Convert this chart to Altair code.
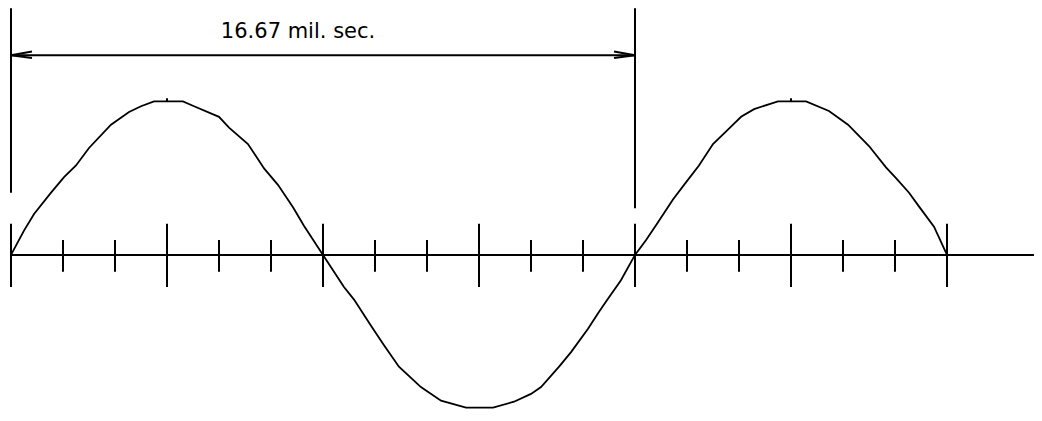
import altair as alt
import pandas as pd

# Sine-like trace: phase in degrees, amplitude (peak = 1)
wave_deg = [0, 7.5, 13.3, 23.1, 30.6, 37.5, 45.0, 57.7, 68.1, 75.0, 82.5, 99.2,
            105.6, 120.0, 125.8, 136.7, 146.0, 154.0, 162.7, 169.0, 180,
            192.1, 197.9, 207.7, 215.2, 223.8, 236.5, 248.1, 262.5, 278.1,
            290.2, 300.0, 305.8, 316.2, 323.1, 332.9, 338.7, 343.3, 351.9, 360,
            366.3, 372.7, 381.9, 388.3, 396.9, 405.0, 415.4, 421.2, 428.7, 442.5, 458.7,
            471.9, 482.9, 495.0, 504.8, 510.6, 518.1, 523.8, 532.5, 540]
wave_amp = [0, 0.158, 0.266, 0.405, 0.506, 0.582, 0.696, 0.848, 0.930, 0.968, 1.0, 1.0,
            0.968, 0.899, 0.829, 0.722, 0.563, 0.456, 0.310, 0.190, 0,
            -0.209, -0.291, -0.462, -0.589, -0.728, -0.861, -0.949, -0.994, -0.994,
            -0.956, -0.905, -0.861, -0.728, -0.633, -0.481, -0.380, -0.304, -0.165, 0,
            0.095, 0.203, 0.361, 0.456, 0.582, 0.722, 0.835, 0.899, 0.949, 1.0, 1.0,
            0.937, 0.848, 0.709, 0.570, 0.500, 0.405, 0.316, 0.184, 0]

major_deg = [0, 90, 180, 270, 360, 450, 540]
minor_deg = [30, 60, 120, 150, 210, 240, 300, 330, 390, 420, 480, 510]
peak_deg = [90, 450]

label_text = "16.67 mil. sec."
period_start, period_end = 0, 360

W, H = 1026, 401
px_per_deg = 156 / 90
px_per_amp = 158 * 0.972
x_min = -3 / px_per_deg
x_max = x_min + W / px_per_deg
y_max = 254 / 158
y_min = y_max - H / px_per_amp

xs = alt.Scale(domain=[x_min, x_max], nice=False, zero=False)
ys = alt.Scale(domain=[y_min, y_max], nice=False, zero=False)
X = lambda f: alt.X(f, type="quantitative", scale=xs, axis=None)
Y = lambda f: alt.Y(f, type="quantitative", scale=ys, axis=None)

wave = pd.DataFrame({"deg": wave_deg, "amp": wave_amp, "i": range(len(wave_deg))})
line = alt.Chart(wave).mark_line(color="black", strokeWidth=1.8).encode(
    x=X("deg"), y=Y("amp"), order="i:Q")

segs = []
segs.append(dict(x=0, x2=x_max, y=0, y2=0))
for d in major_deg:
    segs.append(dict(x=d, x2=d, y=0.203, y2=-0.209))
for d in minor_deg:
    segs.append(dict(x=d, x2=d, y=0.097, y2=-0.110))
for d in peak_deg:
    segs.append(dict(x=d, x2=d, y=1.0, y2=1.02))
segs.append(dict(x=period_start, x2=period_start, y=1.606, y2=0.405))
segs.append(dict(x=period_end, x2=period_end, y=1.606, y2=0.304))
segs.append(dict(x=period_start, x2=period_end, y=1.3006, y2=1.3006))
segs.append(dict(x=period_start, x2=12.1, y=1.3006, y2=1.3247))
segs.append(dict(x=period_start, x2=12.1, y=1.3006, y2=1.2816))
segs.append(dict(x=period_end, x2=347.9, y=1.3006, y2=1.3247))
segs.append(dict(x=period_end, x2=347.9, y=1.3006, y2=1.2816))
seg_df = pd.DataFrame(segs)
rules = alt.Chart(seg_df).mark_rule(color="black", strokeWidth=2).encode(
    x=X("x"), x2="x2", y=Y("y"), y2="y2")

lab = pd.DataFrame({"x": [165.6], "y": [1.409], "t": [label_text]})
text = alt.Chart(lab).mark_text(font="DejaVu Sans", fontSize=21, color="black",
                                align="center", baseline="alphabetic").encode(
    x=X("x"), y=Y("y"), text="t")

chart = alt.layer(rules, line, text).properties(
    width=W, height=H, padding=0, autosize=alt.AutoSizeParams(type="none"),
    background="white"
).configure_view(stroke=None)

chart.save("out.html", embed_options={"renderer": "svg", "actions": False})
